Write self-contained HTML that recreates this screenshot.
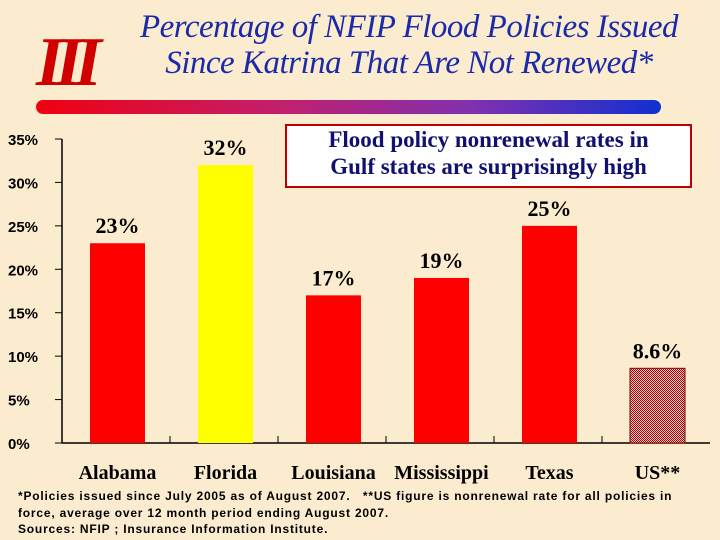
<!DOCTYPE html>
<html><head><meta charset="utf-8"><style>
body{margin:0;width:720px;height:540px;overflow:hidden;background:#fbecd0;font-family:"Liberation Sans",sans-serif}
#t{position:absolute;left:98px;top:9px;width:622px;text-align:center;font:italic 33px/36px "Liberation Serif",serif;color:#1a2aa8;letter-spacing:-0.5px}
#logo{position:absolute;left:36px;top:28px;font:italic bold 70px/70px "Liberation Serif",serif;color:#d00000;letter-spacing:-8px}
#bar{position:absolute;left:36px;top:100px;width:625px;height:14px;border-radius:7px;background:linear-gradient(90deg,#f00010,#c02070 40%,#8030b0 70%,#1030d0)}
#call{position:absolute;left:285px;top:124px;width:403px;height:60px;border:2px solid #c00000;background:#fff;text-align:center;font:bold 23px/27px "Liberation Serif",serif;color:#101070}
#fn{position:absolute;left:18px;top:488px;width:692px;font:bold 12px/16.5px "Liberation Sans",sans-serif;letter-spacing:0.8px;color:#000}
</style></head><body>
<div id="logo">III</div>
<div id="t">Percentage of NFIP Flood Policies Issued<br>Since Katrina That Are Not Renewed*</div>
<div id="bar"></div>
<svg id="c" width="720" height="540" style="position:absolute;left:0;top:0">
<defs><pattern id="pt" width="2" height="2" patternUnits="userSpaceOnUse"><rect width="2" height="2" fill="#e8c8c8"/><rect width="1" height="1" fill="#b00000"/><rect x="1" y="1" width="1" height="1" fill="#b00000"/></pattern></defs>
</svg>
<div id="call">Flood policy nonrenewal rates in<br>Gulf states are surprisingly high</div>
<div id="fn">*Policies issued since July 2005 as of August 2007.&nbsp;&nbsp; **US figure is nonrenewal rate for all policies in force, average over 12 month period ending August 2007.<br>Sources: NFIP ; Insurance Information Institute.</div>
<script>
const categories=["Alabama","Florida","Louisiana","Mississippi","Texas","US**"];
const values=[23,32,17,19,25,8.6];
const valueLabels=["23%","32%","17%","19%","25%","8.6%"];
const yTicks=[0,5,10,15,20,25,30,35];
const colors=["#ff0000","#ffff00","#ff0000","#ff0000","#ff0000","url(#pt)"];
const svg=document.getElementById('c');const NS='http://www.w3.org/2000/svg';
const x0=62,band=108,y0=443,yTop=139,ymax=35;
const Y=v=>y0-(v/ymax)*(y0-yTop);
const X=i=>x0+i*band;
function mk(t,a,txt){const e=document.createElementNS(NS,t);for(const k in a)e.setAttribute(k,a[k]);if(txt!=null)e.textContent=txt;svg.appendChild(e);return e;}
let e=mk('line',{x1:x0,y1:yTop,x2:x0,y2:y0,stroke:'#000','stroke-width':1.5});

e=mk('line',{x1:x0,y1:y0,x2:710,y2:y0,stroke:'#000','stroke-width':1.5});

yTicks.forEach(v=>{
 mk('line',{x1:x0-7,y1:Y(v),x2:x0,y2:Y(v),stroke:'#000'});
 e=mk('text',{x:8,y:Y(v)+6,'font-family':'Liberation Sans,sans-serif','font-weight':'bold','font-size':15},v+'%');
 
});
categories.forEach((c,i)=>{
 if(i>0)mk('line',{x1:X(i),y1:y0,x2:X(i),y2:y0-7,stroke:'#000'});
 const bx=X(i)+28,bw=55;
 e=mk('rect',{x:bx,y:Y(values[i]),width:bw,height:y0-Y(values[i]),fill:colors[i],stroke:i==5?'#900000':'none','stroke-width':1});
 
 e=mk('text',{x:bx+bw/2,y:Y(values[i])-10,'text-anchor':'middle','font-family':'Liberation Serif,serif','font-weight':'bold','font-size':22},valueLabels[i]);
 
 e=mk('text',{x:bx+bw/2,y:479,'text-anchor':'middle','font-family':'Liberation Serif,serif','font-weight':'bold','font-size':20},c);
 
});
</script>
</body></html>
